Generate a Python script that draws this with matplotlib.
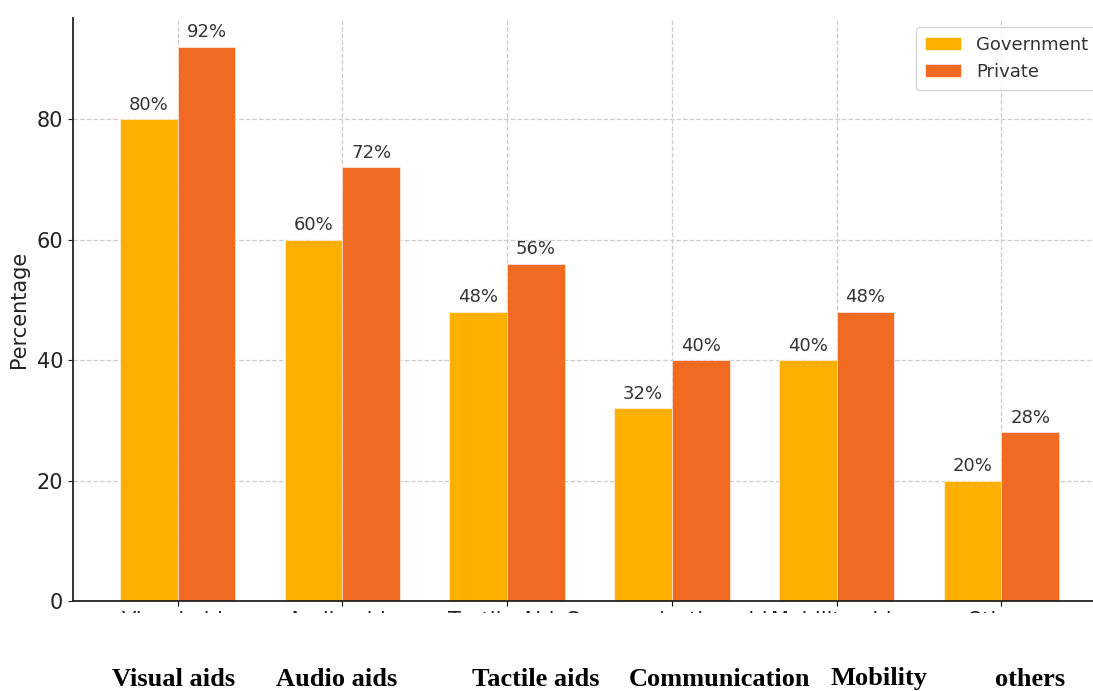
"""Grouped bar chart: assistive device availability, government vs private."""

import matplotlib

matplotlib.use("Agg")
import matplotlib.pyplot as plt
import numpy as np
from matplotlib.patches import Rectangle

categories = ["Visual aids", "Audio aids", "Tactile Aids",
              "Communication aids", "Mobility aids", "Others"]
government = [80, 60, 48, 32, 40, 20]
private = [92, 72, 56, 40, 48, 28]
overlay_labels = ["Visual aids", "Audio aids", "Tactile aids",
                  "Communication", "Mobility", "others"]

GOV_COLOR = "#FFAF00"
PRI_COLOR = "#F06A21"

fig = plt.figure(figsize=(10.93, 6.91), dpi=100)
ax = fig.add_axes([73 / 1093, 1 - 601 / 691, (1106 - 73) / 1093, (601 - 18) / 691])

x = np.arange(len(categories))
w = 0.35
b1 = ax.bar(x - w / 2, government, w, color=GOV_COLOR, label="Government",
            edgecolor="white", linewidth=0.4, zorder=2)
b2 = ax.bar(x + w / 2, private, w, color=PRI_COLOR, label="Private",
            edgecolor="white", linewidth=0.4, zorder=2)

for bars in (b1, b2):
    for rect in bars:
        h = rect.get_height()
        ax.annotate(f"{h:.0f}%", (rect.get_x() + rect.get_width() / 2, h),
                    xytext=(0, 4), textcoords="offset points",
                    ha="center", va="bottom", fontsize=13, color="#333333")

ax.set_ylim(0, 96.8)
ax.set_xticks(x)
ax.set_xticklabels(categories, fontsize=15, color="#222222")
ax.tick_params(axis="y", labelsize=15, colors="#222222")
ax.tick_params(axis="x", pad=4)
ax.set_ylabel("Percentage", fontsize=15, color="#222222")
ax.yaxis.set_label_coords(-0.043, 0.5)
ax.grid(True, linestyle="--", color="#cccccc", linewidth=0.9, zorder=0)
ax.set_axisbelow(True)
for s in ("top", "right"):
    ax.spines[s].set_visible(False)
for s in ("left", "bottom"):
    ax.spines[s].set_linewidth(1.3)
    ax.spines[s].set_color("#222222")

leg = ax.legend(loc="upper right", fontsize=13, frameon=True, fancybox=True,
                borderpad=0.5, handlelength=2.0)
leg.get_frame().set_edgecolor("#cccccc")
for t in leg.get_texts():
    t.set_color("#333333")

# white band hiding the lower part of the original tick labels
fig.add_artist(Rectangle((0, 0), 1, 1 - 613 / 691, transform=fig.transFigure,
                         facecolor="white", edgecolor="none", zorder=10))

overlay_x = [174, 337, 536, 719, 879, 1030]
for px, lab in zip(overlay_x, overlay_labels):
    fig.text(px / 1093, 1 - 679 / 691, lab, ha="center", va="center",
             fontsize=19, fontweight="bold", family="Liberation Serif",
             color="black", zorder=11)

fig.savefig("out.png", dpi=100)
